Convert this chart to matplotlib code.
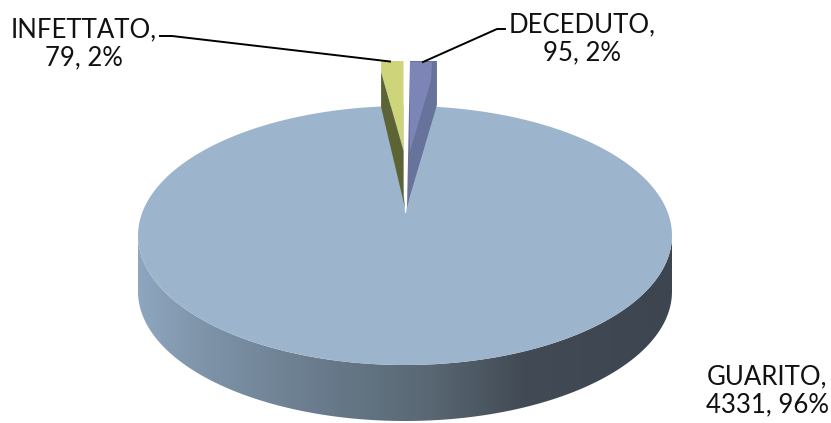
import matplotlib
matplotlib.use('Agg')
import matplotlib.pyplot as plt
from matplotlib.colors import LinearSegmentedColormap
from matplotlib.patches import Polygon
import numpy as np

labels = ['DECEDUTO', 'GUARITO', 'INFETTATO']
values = [95, 4331, 79]
shares = ['2%', '96%', '2%']

plt.rcParams['font.family'] = ['Lato', 'DejaVu Sans']

W, H = 831, 423
fig = plt.figure(figsize=(W / 100, H / 100), dpi=100)
ax = fig.add_axes([0, 0, 1, 1])
ax.set_xlim(0, W)
ax.set_ylim(H, 0)
ax.axis('off')

# pie geometry in pixels
cx, cy = 405, 235.5
rx, ry = 267, 129.5
depth = 56
apex_y = 213

ang = np.cumsum([0] + values) / sum(values) * 2 * np.pi
a_dec = ang[1]
a_inf = ang[2]


def rim(a0, a1, n=300):
    t = np.linspace(a0, a1, n)
    return cx + rx * np.sin(t), cy - ry * np.cos(t)


# side of the big slice, with a horizontal gradient
tx, ty = rim(np.pi / 2, 3 * np.pi / 2)
side_pts = np.vstack([np.c_[tx, ty], np.c_[tx[::-1], ty[::-1] + depth]])
side = Polygon(side_pts, closed=True, fc='none', ec='none')
ax.add_patch(side)
cmap = LinearSegmentedColormap.from_list('side', [
    (0.0, '#8ea6c0'), (0.12, '#7f94a9'), (0.35, '#687a8b'),
    (0.55, '#586772'), (0.72, '#424b55'), (1.0, '#3d4650')])
grad = np.linspace(0, 1, 256).reshape(1, -1)
im = ax.imshow(grad, cmap=cmap, extent=[cx - rx, cx + rx, H, 0],
               aspect='auto', zorder=1)
im.set_clip_path(side)
ax.set_xlim(0, W)
ax.set_ylim(H, 0)

# top of the big slice, the small slices cover its notch
bx, by = rim(0, 2 * np.pi)
ax.add_patch(Polygon(np.c_[bx, by], closed=True, fc='#9db4cd', ec='none', zorder=2))

# exploded slices
sl_r = 204
top_y = 61
sl_depth = 45
inf_right = 403.5
dec_left = 410
apex_top = 151

inf_left = inf_right - sl_r * np.sin(2 * np.pi - a_inf)
dec_right = dec_left + sl_r * np.sin(a_dec)

# white slit between the two slices
ax.add_patch(Polygon([(inf_right, 100), (dec_left, 100), (dec_left, 185),
                      (406, apex_y), (405, apex_y), (inf_right, 185)],
                     closed=True, fc='white', ec='none', zorder=3))

ax.add_patch(Polygon([(inf_left, top_y), (inf_right, top_y), (inf_right, apex_top),
                      (inf_left, top_y + 11)],
                     closed=True, fc='#cdd47a', ec='none', zorder=4))
ax.add_patch(Polygon([(inf_left, top_y + 11), (inf_right, apex_top),
                      (inf_right, apex_top + sl_depth), (405, 208), (inf_left, top_y + 46)],
                     closed=True, fc='#5c6436', ec='none', zorder=4))

ax.add_patch(Polygon([(dec_left, top_y), (dec_right, top_y),
                      (dec_right, top_y + 44), (dec_left, apex_top + sl_depth), (407, 208)],
                     closed=True, fc='#67739b', ec='none', zorder=4))
ax.add_patch(Polygon([(dec_left, top_y + 1), (dec_right - 5, top_y + 1),
                      (dec_right - 6, top_y + 20), (dec_left, apex_top)],
                     closed=True, fc='#7d85b6', ec='none', zorder=5))

# leader lines
ax.plot([160, 172, 390], [36, 36, 61.5], color='black', lw=1.4, zorder=6)
ax.plot([505, 497, 423], [29, 29, 62], color='black', lw=1.4, zorder=6)

fs = 18.5
ax.text(84, 44, f'{labels[2]},\n{values[2]}, {shares[2]}', ha='center', va='center',
        fontsize=fs, color='#111111', linespacing=1.17)
ax.text(582, 39, f'{labels[0]},\n{values[0]}, {shares[0]}', ha='center', va='center',
        fontsize=fs, color='#111111', linespacing=1.17)
ax.text(767, 391, f'{labels[1]},\n{values[1]}, {shares[1]}', ha='center', va='center',
        fontsize=fs, color='#111111', linespacing=1.17)

fig.savefig('out.png', dpi=100)
